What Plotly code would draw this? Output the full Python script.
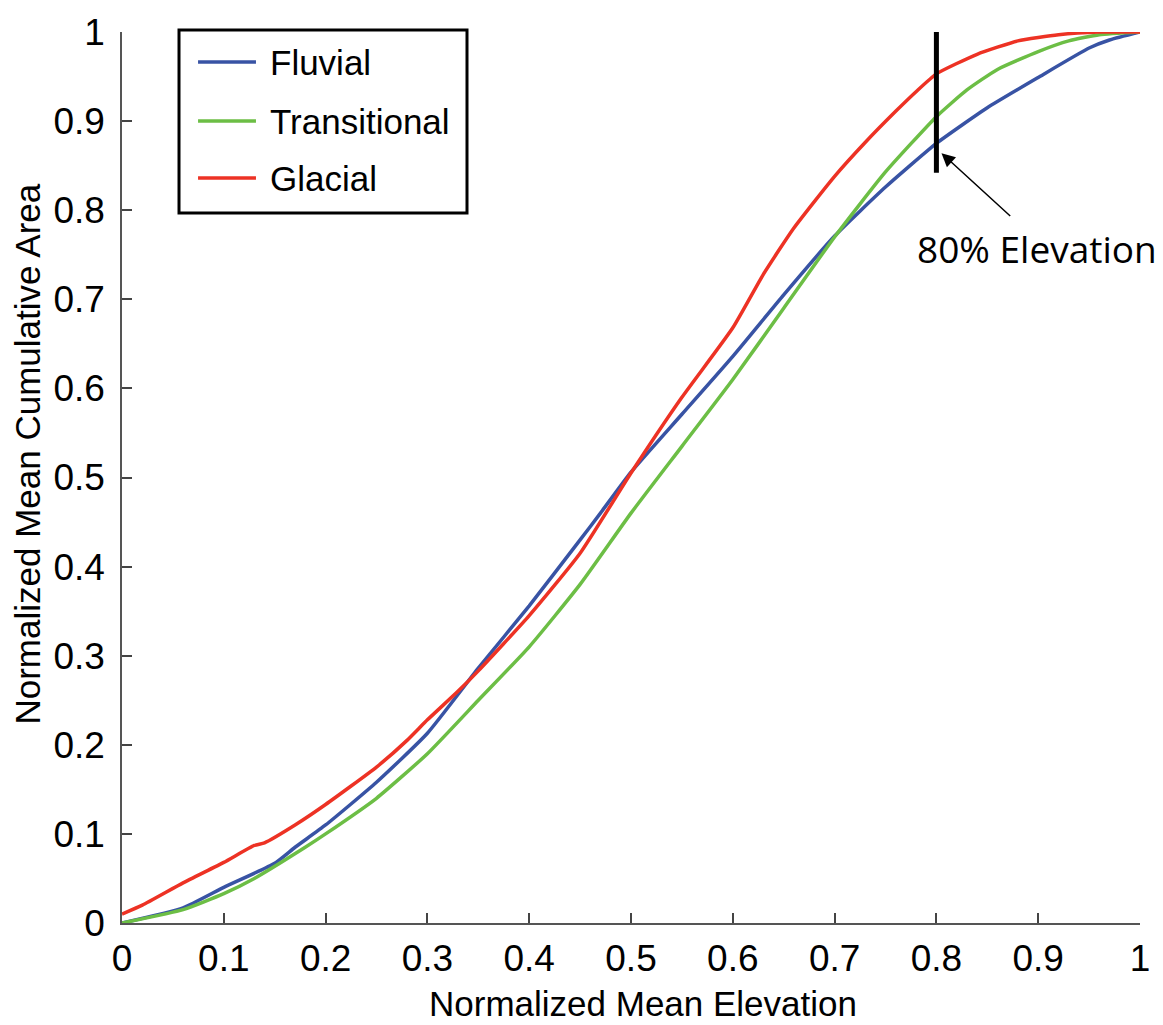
import plotly.graph_objects as go

# ---- data ----
fluvial_x = [0, 0.06, 0.10, 0.15, 0.17, 0.20, 0.25, 0.30, 0.35, 0.40, 0.45, 0.47, 0.50,
             0.55, 0.60, 0.65, 0.70, 0.75, 0.80, 0.85, 0.90, 0.95, 0.97, 1.0]
fluvial_y = [0, 0.017, 0.04, 0.067, 0.085, 0.11, 0.158, 0.213, 0.286, 0.356, 0.43, 0.46, 0.506,
             0.571, 0.636, 0.705, 0.771, 0.826, 0.875, 0.915, 0.949, 0.982, 0.991, 1.0]

trans_x = [0, 0.06, 0.10, 0.13, 0.18, 0.20, 0.25, 0.30, 0.35, 0.40, 0.45, 0.50, 0.55, 0.60,
           0.65, 0.70, 0.75, 0.80, 0.83, 0.86, 0.90, 0.93, 0.96, 1.0]
trans_y = [0, 0.015, 0.033, 0.05, 0.085, 0.10, 0.14, 0.19, 0.25, 0.31, 0.38, 0.46, 0.535, 0.61,
           0.69, 0.77, 0.843, 0.905, 0.935, 0.958, 0.978, 0.99, 0.997, 1.0]

glacial_x = [0, 0.02, 0.06, 0.10, 0.13, 0.14, 0.17, 0.20, 0.25, 0.28, 0.30, 0.33, 0.35, 0.40,
             0.45, 0.50, 0.55, 0.60, 0.63, 0.66, 0.70, 0.73, 0.76, 0.78, 0.80, 0.84, 0.88,
             0.92, 0.96, 1.0]
glacial_y = [0.01, 0.02, 0.045, 0.068, 0.087, 0.09, 0.11, 0.133, 0.175, 0.205, 0.228, 0.26, 0.283,
             0.345, 0.415, 0.505, 0.59, 0.668, 0.728, 0.78, 0.838, 0.876, 0.911, 0.933, 0.953,
             0.975, 0.99, 0.997, 1.0, 1.0]

series_names = ["Fluvial", "Transitional", "Glacial"]
series_colors = ["#3853a4", "#6cbe45", "#ed3224"]

marker_x = 0.8
marker_y = [0.842, 1.0]
arrow_head = (0.805, 0.864)
arrow_tail = (0.874, 0.792)
label_text = "80% Elevation"

tick_vals = [0, 0.1, 0.2, 0.3, 0.4, 0.5, 0.6, 0.7, 0.8, 0.9, 1]
tick_text = ["0", "0.1", "0.2", "0.3", "0.4", "0.5", "0.6", "0.7", "0.8", "0.9", "1"]

FONT = "Liberation Sans, Arial, Helvetica, sans-serif"

fig = go.Figure()
for xs, ys, name, col in zip([fluvial_x, trans_x, glacial_x], [fluvial_y, trans_y, glacial_y],
                             series_names, series_colors):
    fig.add_trace(go.Scatter(x=xs, y=ys, mode="lines", name=name,
                             line=dict(color=col, width=3.5, shape="spline", smoothing=0.5),
                             showlegend=False))

axis_common = dict(range=[0, 1], tickvals=tick_vals, ticktext=tick_text, ticks="inside",
                   ticklen=10, tickwidth=1.5, tickcolor="#444", showline=True, linecolor="#555",
                   linewidth=1.5, showgrid=False, zeroline=False,
                   tickfont=dict(family=FONT, size=37, color="black"))
fig.update_xaxes(**axis_common, ticklabelstandoff=2)
fig.update_yaxes(**axis_common, ticklabelstandoff=8)

shapes = []
# vertical 80% elevation bar
shapes.append(dict(type="line", xref="x", yref="y", x0=marker_x, x1=marker_x,
                   y0=marker_y[0], y1=marker_y[1], line=dict(color="black", width=5)))
# manual legend
shapes.append(dict(type="rect", xref="paper", yref="paper", x0=0.056, x1=0.3389,
                   y0=0.7969, y1=1.0022, line=dict(color="black", width=3), fillcolor="white",
                   layer="above"))
row_y = [0.9663, 0.9001, 0.8361]
annotations = []
for ry, name, col in zip(row_y, series_names, series_colors):
    shapes.append(dict(type="line", xref="paper", yref="paper", x0=0.0747, x1=0.1316,
                       y0=ry, y1=ry, line=dict(color=col, width=3.5), layer="above"))
    annotations.append(dict(text=name, xref="paper", yref="paper", x=0.1434, y=ry,
                            xanchor="left", yanchor="middle", showarrow=False,
                            font=dict(family=FONT, size=35, color="black")))

# arrow
annotations.append(dict(x=arrow_head[0], y=arrow_head[1], ax=arrow_tail[0], ay=arrow_tail[1],
                        xref="x", yref="y", axref="x", ayref="y", text="", showarrow=True,
                        arrowhead=2, arrowsize=1.8, arrowwidth=1.5, arrowcolor="black"))
annotations.append(dict(text=label_text, x=0.899, y=0.757, xref="x", yref="y",
                        xanchor="center", yanchor="middle", showarrow=False,
                        font=dict(family="Open Sans, Noto Sans, sans-serif", size=37,
                                  color="black")))
# axis titles
annotations.append(dict(text="Normalized Mean Elevation", xref="paper", yref="paper",
                        x=0.5118, y=-0.0898, xanchor="center", yanchor="middle",
                        showarrow=False, font=dict(family=FONT, size=35, color="black")))
annotations.append(dict(text="Normalized Mean Cumulative Area", xref="paper", yref="paper",
                        x=-0.0933, y=0.5258, xanchor="center", yanchor="middle",
                        textangle=-90, showarrow=False,
                        font=dict(family=FONT, size=35, color="black")))

fig.update_layout(width=1163, height=1025, margin=dict(l=122, r=23, t=32, b=102),
                  paper_bgcolor="white", plot_bgcolor="white", shapes=shapes,
                  annotations=annotations, showlegend=False)

fig.write_html("out.html")
